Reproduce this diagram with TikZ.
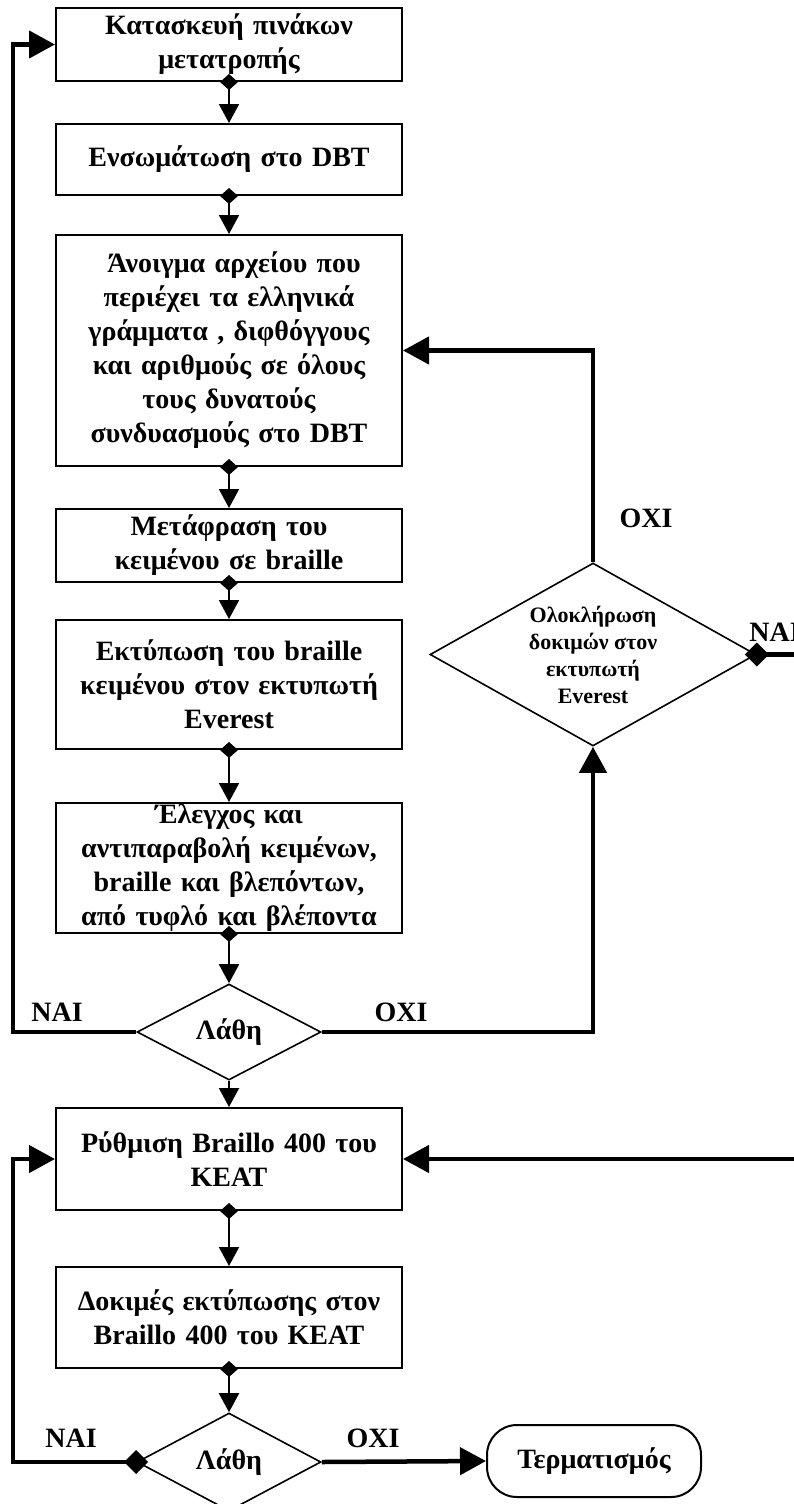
\documentclass[tikz,border=0pt]{standalone}
\usepackage{fontspec}
\setmainfont{Liberation Serif}
\usetikzlibrary{arrows.meta,shapes.geometric}

\begin{document}
\begin{tikzpicture}[x=1pt,y=-1pt,
    box/.style={draw,line width=2pt,rectangle,inner sep=0pt,minimum width=346pt,text width=340pt,align=center,font=\fontsize{28}{34}\selectfont\bfseries},
    decision/.style={draw,line width=1.6pt,diamond,aspect=1.9,inner sep=0pt,align=center,font=\fontsize{28}{34}\selectfont\bfseries},
    lbl/.style={font=\fontsize{28}{34}\selectfont\bfseries},
    flow/.style={line width=2pt,-{Triangle[length=19pt,width=20pt]}},
    mflow/.style={line width=2pt,{Diamond[length=16pt,width=18pt]}-{Triangle[length=19pt,width=20pt]}},
    loop/.style={line width=4.5pt,-{Triangle[length=26pt,width=27pt]}},
    mloop/.style={line width=4.5pt,{Diamond[length=24pt,width=24pt]}-{Triangle[length=26pt,width=27pt]}}]
    \useasboundingbox (0,0) rectangle (794,1504);
    \node[box,minimum height=73pt] (b1) at (229,44.5) {\raisebox{-7pt}{Κατασκευή πινάκων}\\\raisebox{-7pt}{μετατροπής}};
    \node[box,minimum height=71pt] (b2) at (229,159.5) {Ενσωμάτωση στο DBT};
    \node[box,minimum height=231pt] (b3) at (229,350.5) {\hspace*{10pt}Άνοιγμα αρχείου που\\περιέχει τα ελληνικά\\γράμματα , διφθόγγους\\και αριθμούς σε όλους\\τους δυνατούς\\συνδυασμούς στο DBT};
    \node[box,minimum height=73pt] (b4) at (229,545.5) {Μετάφραση του\\κειμένου σε braille};
    \node[box,minimum height=129pt] (b5) at (229,684.5) {Εκτύπωση του braille\\κειμένου στον εκτυπωτή\\Everest};
    \node[box,minimum height=130pt] (b6) at (229,868) {Έλεγχος και\\αντιπαραβολή κειμένων,\\braille και βλεπόντων,\\από τυφλό και βλέποντα};
    \node[decision,minimum width=184pt,minimum height=96pt] (d1) at (229,1032) {Λάθη};
    \node[box,minimum height=102pt] (b7) at (229,1159) {Ρύθμιση Braillo 400 του\\ΚΕΑΤ};
    \node[box,minimum height=101pt] (b8) at (229,1317.5) {Δοκιμές εκτύπωσης στον\\Braillo 400 του ΚΕΑΤ};
    \node[decision,minimum width=184pt,minimum height=98pt] (d2) at (229,1462) {Λάθη};
    \node[draw,line width=2pt,rounded corners=30pt,minimum width=214pt,minimum height=72pt,inner sep=0pt,lbl] (end) at (594,1461) {Τερματισμός};
    \node[decision,minimum width=326pt,minimum height=183pt,font=\fontsize{22}{27}\selectfont\bfseries] (d3) at (593,654.5) {Ολοκλήρωση\\δοκιμών στον\\εκτυπωτή\\Everest};

    \coordinate (nai1) at (13,1032);
    \coordinate (oxi1) at (593,1032);
    \coordinate (nai2) at (13,1462);
    \coordinate (nai3) at (800,654.5);

    \draw[mflow] ([yshift=8pt]b1.south) -- (b2.north);
    \draw[mflow] ([yshift=8pt]b2.south) -- (b3.north);
    \draw[mflow] ([yshift=8pt]b3.south) -- (b4.north);
    \draw[mflow] ([yshift=8pt]b4.south) -- (b5.north);
    \draw[mflow] ([yshift=8pt]b5.south) -- (b6.north);
    \draw[mflow] ([yshift=8pt]b6.south) -- (d1.north);
    \draw[flow] (d1.south) -- (b7.north);
    \draw[mflow] ([yshift=8pt]b7.south) -- (b8.north);
    \draw[mflow] ([yshift=8pt]b8.south) -- (d2.north);

    \draw[loop] (d1.west) -- (nai1) |- (b1.west);
    \draw[loop] (d1.east) -- (oxi1) -- (d3.south);
    \draw[loop] (d3.north) |- (b3.east);
    \draw[mloop] ([xshift=-12pt]d3.east) -- (nai3) |- (b7.east);
    \draw[mloop] ([xshift=12pt]d2.west) -- (nai2) |- (b7.west);
    \draw[loop] (d2.east) -- (end.west);

    \node[lbl] (l1) at (57,1012) {ΝΑΙ};
    \node[lbl] (l2) at (401,1012) {ΟΧΙ};
    \node[lbl] (l3) at (646,518) {ΟΧΙ};
    \node[lbl] (l4) at (775,632) {ΝΑΙ};
    \node[lbl] (l5) at (71,1438) {ΝΑΙ};
    \node[lbl] (l6) at (373,1438) {ΟΧΙ};
\end{tikzpicture}
\end{document}
